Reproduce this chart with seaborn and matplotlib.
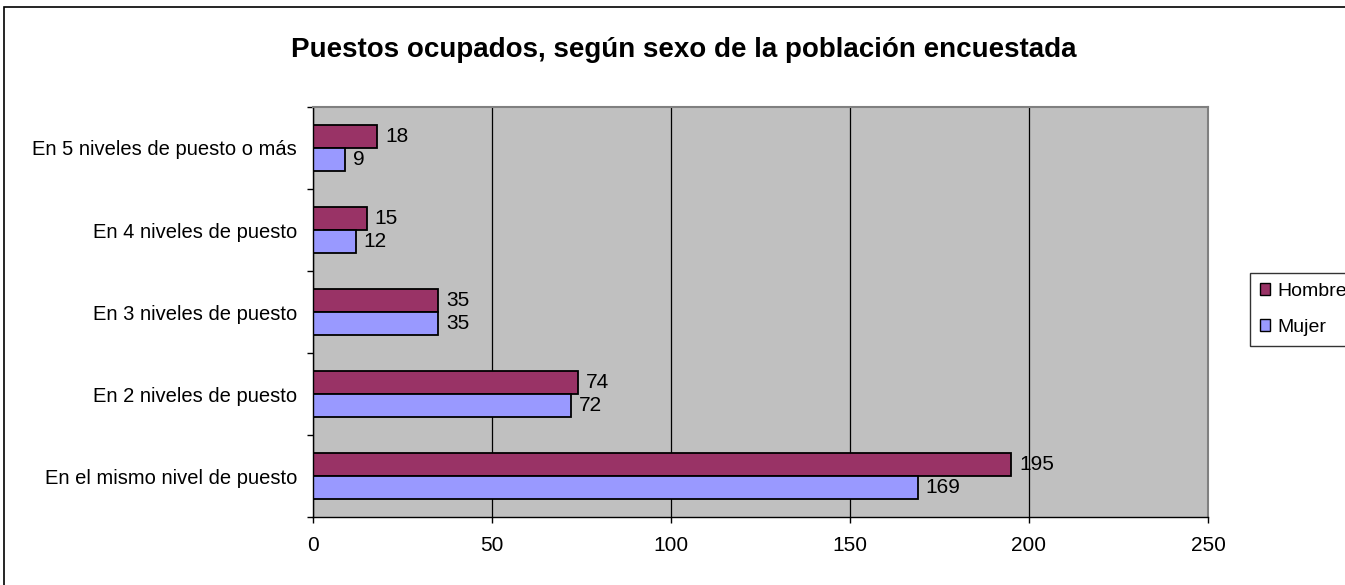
import matplotlib
matplotlib.use("Agg")
import matplotlib.pyplot as plt
import seaborn as sns
import pandas as pd
from matplotlib.patches import Rectangle, Patch

categories = ["En 5 niveles de puesto o más", "En 4 niveles de puesto",
              "En 3 niveles de puesto", "En 2 niveles de puesto",
              "En el mismo nivel de puesto"]
hombre = [18, 15, 35, 74, 195]
mujer = [9, 12, 35, 72, 169]
series = ["Hombre", "Mujer"]
xticks = [0, 50, 100, 150, 200, 250]

df = pd.DataFrame({
    "cat": categories * 2,
    "val": hombre + mujer,
    "sexo": ["Hombre"] * len(categories) + ["Mujer"] * len(categories),
})

sns.set_theme(style="white")
plt.rcParams['font.family'] = ['Liberation Sans', 'DejaVu Sans']
plt.rcParams['text.color'] = 'black'
plt.rcParams['xtick.color'] = 'black'
plt.rcParams['ytick.color'] = 'black'
plt.rcParams['axes.labelcolor'] = 'black'

colors = {"Hombre": "#993366", "Mujer": "#9999FF"}

fig = plt.figure(figsize=(13.45, 5.85), dpi=100)
ax = fig.add_axes([0.2327, 0.1162, 0.8981 - 0.2327, 0.8171 - 0.1162])
ax.set_facecolor("#C0C0C0")

sns.barplot(data=df, x="val", y="cat", hue="sexo", hue_order=series,
            order=categories, palette=colors, orient="h", width=0.56,
            edgecolor="black", linewidth=1.3, ax=ax, legend=False, saturation=1)

ax.set_xlim(0, 250)
ax.set_ylim(len(categories) - 0.5, -0.5)
ax.set_xticks(xticks)
ax.set_xticklabels([str(t) for t in xticks], fontsize=15, color="black")
ax.xaxis.grid(True, color="black", linewidth=0.9)
ax.set_axisbelow(True)
ax.set_xlabel("")
ax.set_ylabel("")

# y ticks at boundaries, labels at centers
ax.set_yticks([i - 0.5 for i in range(len(categories) + 1)])
ax.set_yticklabels([])
ax.set_yticks(range(len(categories)), minor=True)
ax.set_yticklabels(categories, minor=True, fontsize=14.5, color="black")
ax.tick_params(axis="y", which="major", left=True, length=4.5, width=1, color="black")
ax.tick_params(axis="y", which="minor", left=False, length=0, pad=11.5)
ax.tick_params(axis="x", bottom=True, length=4.5, width=1, color="black", pad=9)

for s in ["left", "bottom"]:
    ax.spines[s].set_color("black")
    ax.spines[s].set_linewidth(1)
for s in ["top", "right"]:
    ax.spines[s].set_color("#808080")
    ax.spines[s].set_linewidth(1.5)

for cont in ax.containers:
    for bar in cont:
        w = bar.get_width()
        ax.text(w + 2.2, bar.get_y() + bar.get_height() / 2, f"{int(round(w))}",
                va="center", ha="left", fontsize=15, color="black")

fig.text(0.5085, 1 - 50 / 585, "Puestos ocupados, según sexo de la población encuestada",
         ha="center", va="center", fontsize=20, fontweight="bold", color="black")

handles = [Patch(facecolor=colors[s], edgecolor="black", label=s) for s in series]
leg = fig.legend(handles=handles, loc="upper left", bbox_to_anchor=(1250 / 1345, 1 - 273 / 585),
                 frameon=True, fancybox=False, shadow=False, fontsize=14,
                 handlelength=0.55, handleheight=0.55, handletextpad=0.35,
                 borderpad=0.5, labelspacing=1.0, borderaxespad=0)
leg.get_frame().set_edgecolor("black")
leg.get_frame().set_linewidth(1)
for t in leg.get_texts():
    t.set_color("black")

fig.patches.append(Rectangle((4 / 1345, -0.05), 1.1, 1 - 7 / 585 + 0.05,
                             transform=fig.transFigure, fill=False,
                             edgecolor="black", linewidth=1.2))

fig.savefig("out.png", dpi=100, facecolor="white")
